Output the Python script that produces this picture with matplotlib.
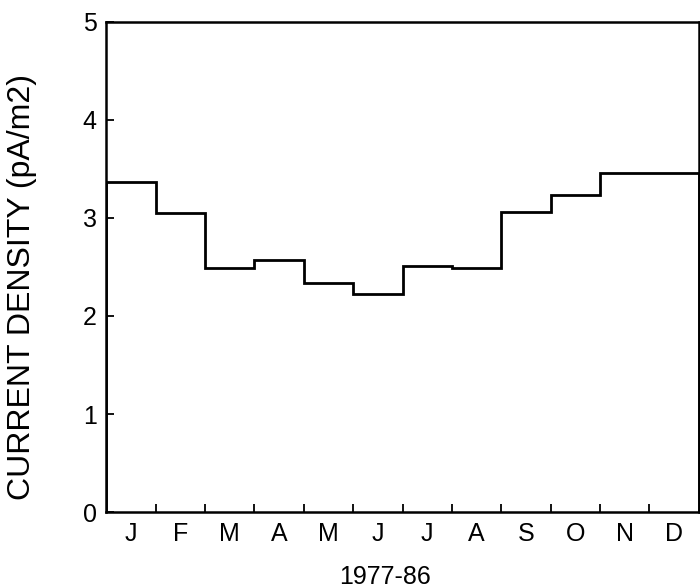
import numpy as np
import matplotlib
matplotlib.use("Agg")
import matplotlib.pyplot as plt

plt.rcParams['font.family'] = ['Liberation Sans', 'DejaVu Sans']

months = ["J", "F", "M", "A", "M", "J", "J", "A", "S", "O", "N", "D"]
current_density = [3.37, 3.05, 2.49, 2.57, 2.34, 2.22, 2.51, 2.49, 3.06, 3.23, 3.46, 3.46]
y_ticks = [0, 1, 2, 3, 4, 5]
x_label = "1977-86"
y_label = "CURRENT DENSITY (pA/m2)"

fig = plt.figure(figsize=(7.0, 5.88), dpi=100)
ax = fig.add_axes([0.152, 0.129, 0.846, 0.834])

edges = np.arange(len(months) + 1)
ax.stairs(current_density, edges, color="black", linewidth=2.0)

ax.set_xlim(0, len(months))
ax.set_ylim(0, 5)

ax.set_yticks(y_ticks)
ax.set_yticklabels([str(t) for t in y_ticks])
ax.set_xticks(edges[1:-1])
ax.set_xticklabels([])
ax.set_xticks(edges[:-1] + 0.5, minor=True)
ax.set_xticklabels(months, minor=True)

ax.tick_params(axis='both', which='major', direction='in', length=6, width=1.3,
               labelsize=18, pad=7, colors='black')
ax.tick_params(axis='x', which='minor', length=0, labelsize=18, pad=7)

for s in ax.spines.values():
    s.set_linewidth(1.8)
    s.set_color('black')

ax.set_xlabel(x_label, fontsize=18)
ax.xaxis.set_label_coords(0.47, -0.108)
ax.set_ylabel(y_label, fontsize=23)
ax.yaxis.set_label_coords(-0.117, 0.46)

fig.savefig("out.png", dpi=100)
